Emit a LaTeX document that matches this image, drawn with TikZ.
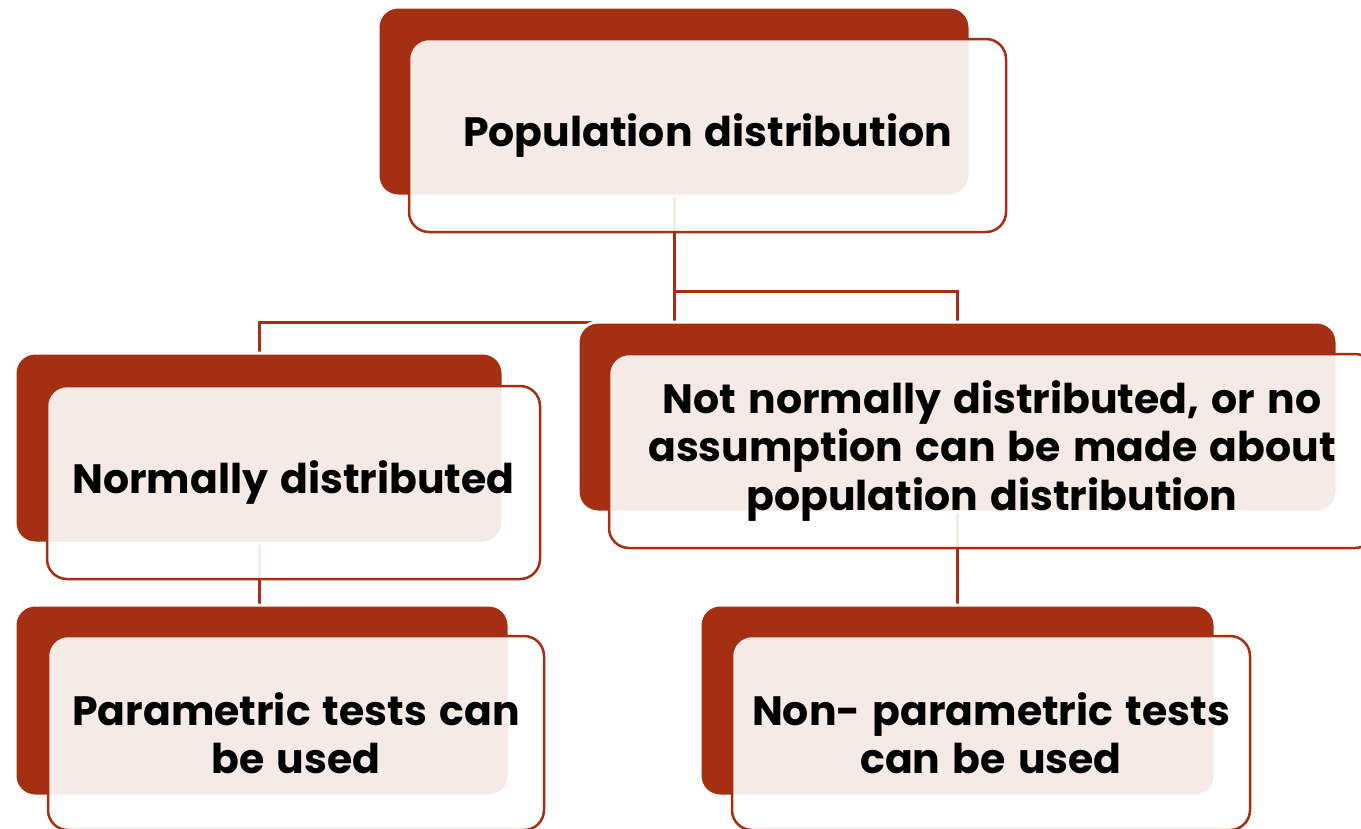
\documentclass[tikz,border=0pt]{standalone}
\usepackage{fontspec}
\setmainfont{Poppins}[WordSpace=1.4]
\usetikzlibrary{positioning}
\definecolor{brick}{RGB}{165,47,18}
\definecolor{paleleaf}{RGB}{229,236,214}
\pgfdeclareradialshading{pagewash}{\pgfpoint{0bp}{0bp}}{color(0bp)=(white); color(14bp)=(white); color(25bp)=(paleleaf); color(50bp)=(paleleaf)}
\tikzset{
  backbox/.style={fill=brick, draw=white, line width=3pt, rounded corners=20pt, inner sep=0pt},
  frontbox/.style={fill=white, fill opacity=0.9, text opacity=1, draw=brick, line width=2.5pt,
    rounded corners=20pt, align=center, inner sep=0pt, font=\fontsize{41}{48.5}\selectfont\bfseries},
  link/.style={draw=brick, line width=3pt}
}
\begin{document}
\begin{tikzpicture}[x=1pt, y=-1pt]
\useasboundingbox (0,0) rectangle (1361,828);
\begin{scope}
\clip (0,0) rectangle (1361,828);
\shade[shading=pagewash] (450,300) circle (1900pt);
\end{scope}
% back boxes, placed first so the links run behind them
\coordinate (popc) at (674,101.5);
\coordinate (normc) at (259,448);
\coordinate (notc) at (957.5,417);
\coordinate (parac) at (262,700.5);
\coordinate (nonparac) at (957.5,700.5);
\draw[link] (popc) -- ++(0,189.5) -| (notc);
\draw[link] (popc) -- ++(0,220.5) -| (normc);
\draw[link] (normc) -- (normc |- parac);
\draw[link] (notc) -- (nonparac);
\node[backbox, minimum width=592, minimum height=189] (popback) at (popc) {};
\node[backbox, minimum width=488, minimum height=190] (normback) at (normc) {};
\node[backbox, minimum width=759, minimum height=190] (notback) at (notc) {};
\node[backbox, minimum width=494, minimum height=191] (paraback) at (parac) {};
\node[backbox, minimum width=515, minimum height=191] (nonparaback) at (nonparac) {};
% front boxes
\node[frontbox, minimum width=597, minimum height=193] (pop) at (707.5,135.5) {Population distribution};
\node[frontbox, minimum width=493, minimum height=193] (norm) at (293.5,482.5) {Normally distributed};
\node[frontbox, minimum width=766, minimum height=194] (notnorm) at (992,451)
  {Not normally distributed, or no\\assumption can be made about\\population distribution};
\node[frontbox, minimum width=496, minimum height=194] (para) at (296,733) {Parametric tests can\\be used};
\node[frontbox, minimum width=518, minimum height=194] (nonpara) at (991,733) {Non- parametric tests\\can be used};
\end{tikzpicture}
\end{document}
